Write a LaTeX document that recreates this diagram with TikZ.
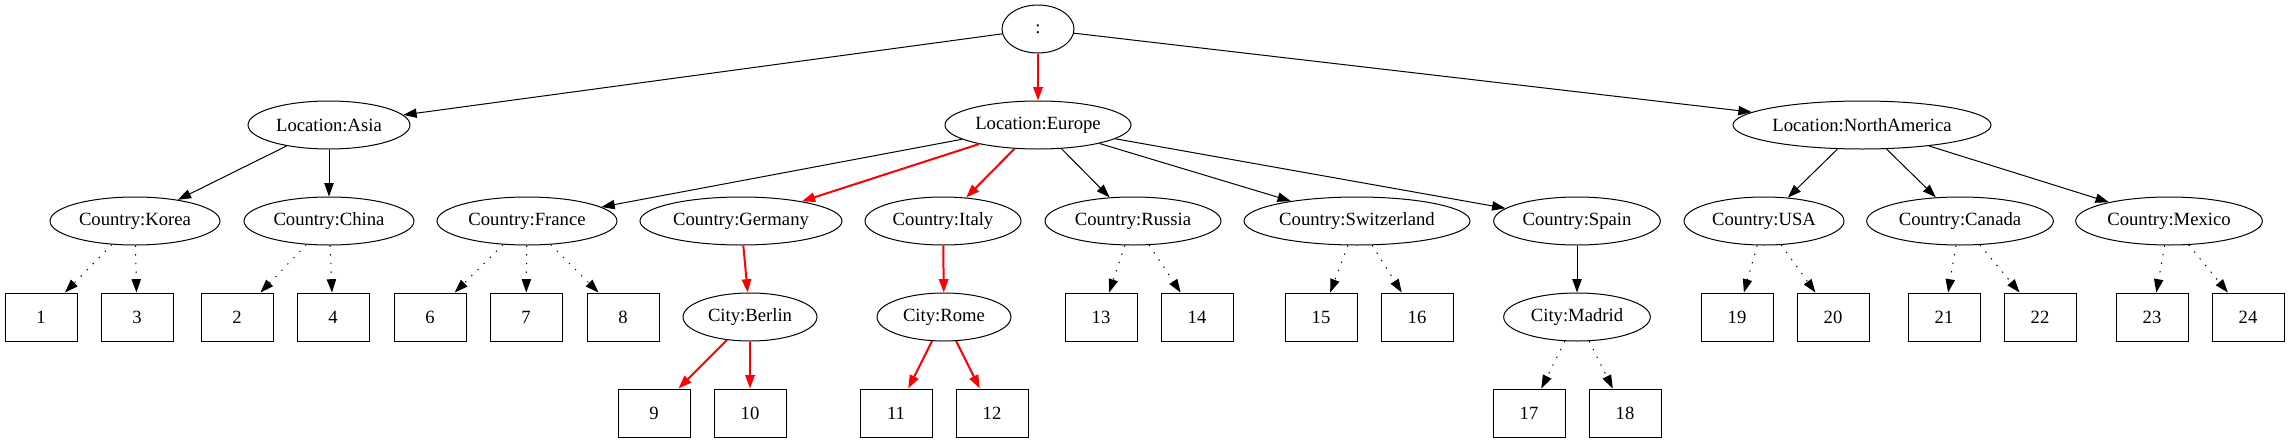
\documentclass[tikz,border=0pt]{standalone}
\usepackage{fontspec}
\setmainfont{Liberation Serif}
\usetikzlibrary{shapes.geometric}
\usetikzlibrary{arrows.meta}

\tikzset{
    ell/.style={ellipse, draw, line width=0.75pt, inner sep=0pt, minimum height=36pt, minimum width=#1},
    leaf/.style={rectangle, draw, line width=0.75pt, inner sep=0pt, minimum width=54pt, minimum height=36pt},
    plain/.style={->, line width=0.75pt},
    hot/.style={->, red, line width=1.5pt},
    dotarr/.style={->, line width=0.75pt, dash pattern=on 1pt off 5.5pt},
}

\begin{document}
\begin{tikzpicture}[>={Triangle[length=10pt, width=7pt]}, x=0.75pt, y=-0.75pt, font=\fontsize{14}{16}\selectfont]

    \useasboundingbox (0,0) rectangle (2289,443);

    % root and locations
    \node[ell=54pt] (root) at (1038,29) {:};
    \node[ell=121.5pt] (asia) at (329,125) {Location:Asia};
    \node[ell=139.5pt] (europe) at (1038,125) {Location:Europe};
    \node[ell=193.5pt] (namerica) at (1862,125) {Location:NorthAmerica};

    % countries
    \node[ell=127.5pt] (korea) at (135,221) {Country:Korea};
    \node[ell=127.5pt] (china) at (329,221) {Country:China};
    \node[ell=135pt] (france) at (527,221) {Country:France};
    \node[ell=151.5pt] (germany) at (741,221) {Country:Germany};
    \node[ell=117pt] (italy) at (943,221) {Country:Italy};
    \node[ell=132pt] (russia) at (1133,221) {Country:Russia};
    \node[ell=169.5pt] (swiss) at (1357,221) {Country:Switzerland};
    \node[ell=125pt] (spain) at (1577,221) {Country:Spain};
    \node[ell=120pt] (usa) at (1764,221) {Country:USA};
    \node[ell=140pt] (canada) at (1960,221) {Country:Canada};
    \node[ell=140pt] (mexico) at (2169,221) {Country:Mexico};

    % cities
    \node[ell=100.5pt] (berlin) at (750,317) {City:Berlin};
    \node[ell=100.5pt] (rome) at (944,317) {City:Rome};
    \node[ell=110pt] (madrid) at (1577,317) {City:Madrid};

    % numbered leaves
    \foreach \n/\x/\y in {1/41/317, 3/137/317, 2/237/317, 4/333/317, 6/430/317, 7/526/317, 8/623/317,
        13/1101/317, 14/1197/317, 15/1321/317, 16/1417/317, 19/1737/317, 20/1833/317,
        21/1944/317, 22/2040/317, 23/2152/317, 24/2248/317,
        9/654/413, 10/750/413, 11/896/413, 12/992/413, 17/1529/413, 18/1625/413} {
        \node[leaf] (n\n) at (\x,\y) {\n};
    }

    % solid edges
    \foreach \a/\b in {root/asia, root/namerica, asia/korea, asia/china,
        europe/france, europe/russia, europe/swiss, europe/spain, spain/madrid,
        namerica/usa, namerica/canada, namerica/mexico} {
        \draw[plain] (\a) -- (\b);
    }

    % highlighted path
    \foreach \a/\b in {root/europe, europe/germany, europe/italy, germany/berlin, italy/rome,
        berlin/n9, berlin/n10, rome/n11, rome/n12} {
        \draw[hot] (\a) -- (\b);
    }

    % dotted edges to leaves
    \foreach \a/\b in {korea/n1, korea/n3, china/n2, china/n4, france/n6, france/n7, france/n8,
        russia/n13, russia/n14, swiss/n15, swiss/n16, madrid/n17, madrid/n18,
        usa/n19, usa/n20, canada/n21, canada/n22, mexico/n23, mexico/n24} {
        \draw[dotarr] (\a) -- (\b);
    }

\end{tikzpicture}
\end{document}
